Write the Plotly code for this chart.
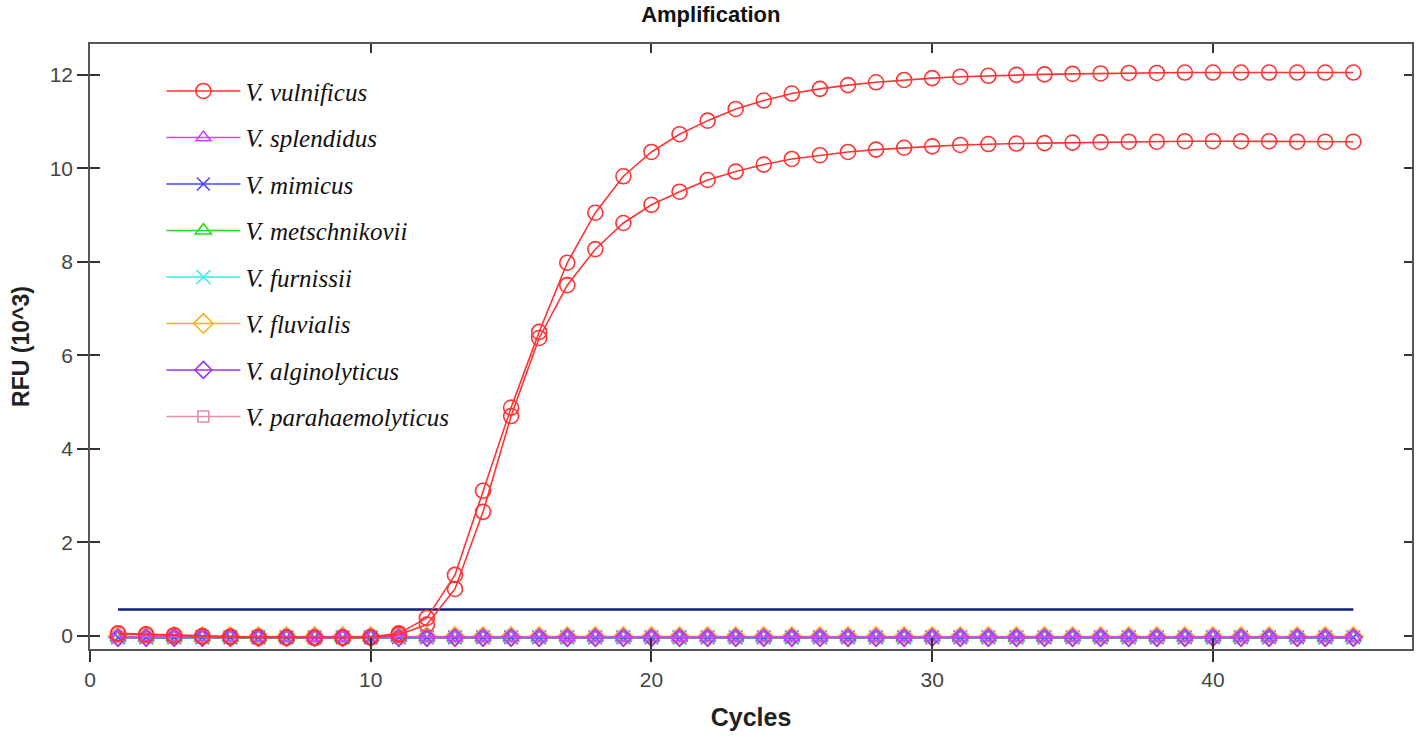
import plotly.graph_objects as go

cycles = list(range(1, 46))

# V. vulnificus, two replicates (RFU x10^3)
vulnificus_a = [0.05, 0.03, 0.01, -0.01, -0.02, -0.03, -0.04, -0.04, -0.04, -0.03,
                0.05, 0.38, 1.30, 3.10, 4.88, 6.50, 7.98, 9.05, 9.83, 10.35,
                10.73, 11.02, 11.27, 11.45, 11.60, 11.70, 11.78, 11.84, 11.89, 11.93,
                11.96, 11.98, 12.00, 12.01, 12.02, 12.03, 12.04, 12.04, 12.05, 12.05,
                12.05, 12.05, 12.05, 12.05, 12.05]
vulnificus_b = [0.04, 0.02, 0.00, -0.02, -0.03, -0.04, -0.04, -0.05, -0.04, -0.04,
                0.02, 0.24, 1.00, 2.65, 4.70, 6.37, 7.50, 8.27, 8.83, 9.22,
                9.50, 9.75, 9.93, 10.08, 10.20, 10.28, 10.35, 10.40, 10.44, 10.47,
                10.50, 10.52, 10.53, 10.54, 10.55, 10.56, 10.57, 10.57, 10.58, 10.58,
                10.58, 10.58, 10.57, 10.57, 10.57]

splendidus = [-0.03, -0.03, -0.03, -0.03, -0.03, -0.03, -0.03, -0.03, -0.03, -0.03,
              -0.03, -0.03, -0.03, -0.03, -0.03, -0.03, -0.03, -0.03, -0.03, -0.03,
              -0.03, -0.03, -0.03, -0.03, -0.03, -0.03, -0.03, -0.03, -0.03, -0.03,
              -0.03, -0.03, -0.03, -0.03, -0.03, -0.03, -0.03, -0.03, -0.03, -0.03,
              -0.03, -0.03, -0.03, -0.03, -0.03]
mimicus = [-0.04, -0.04, -0.04, -0.04, -0.04, -0.04, -0.04, -0.04, -0.04, -0.04,
           -0.04, -0.04, -0.04, -0.04, -0.04, -0.04, -0.04, -0.04, -0.04, -0.04,
           -0.04, -0.04, -0.04, -0.04, -0.04, -0.04, -0.04, -0.04, -0.04, -0.04,
           -0.04, -0.04, -0.04, -0.04, -0.04, -0.04, -0.04, -0.04, -0.04, -0.04,
           -0.04, -0.04, -0.04, -0.04, -0.04]
metschnikovii = [-0.05, -0.05, -0.05, -0.05, -0.05, -0.05, -0.05, -0.05, -0.05, -0.05,
                 -0.05, -0.05, -0.05, -0.05, -0.05, -0.05, -0.05, -0.05, -0.05, -0.05,
                 -0.05, -0.05, -0.05, -0.05, -0.05, -0.05, -0.05, -0.05, -0.05, -0.05,
                 -0.05, -0.05, -0.05, -0.05, -0.05, -0.05, -0.05, -0.05, -0.05, -0.05,
                 -0.05, -0.05, -0.05, -0.05, -0.05]
furnissii = [-0.03, -0.03, -0.03, -0.03, -0.03, -0.03, -0.03, -0.03, -0.03, -0.03,
             -0.03, -0.03, -0.03, -0.03, -0.03, -0.03, -0.03, -0.03, -0.03, -0.03,
             -0.03, -0.03, -0.03, -0.03, -0.03, -0.03, -0.03, -0.03, -0.03, -0.03,
             -0.03, -0.03, -0.03, -0.03, -0.03, -0.03, -0.03, -0.03, -0.03, -0.03,
             -0.03, -0.03, -0.03, -0.03, -0.03]
fluvialis = [-0.02, -0.02, -0.02, -0.02, -0.02, -0.02, -0.02, -0.02, -0.02, -0.02,
             -0.02, -0.02, -0.02, -0.02, -0.02, -0.02, -0.02, -0.02, -0.02, -0.02,
             -0.02, -0.02, -0.02, -0.02, -0.02, -0.02, -0.02, -0.02, -0.02, -0.02,
             -0.02, -0.02, -0.02, -0.02, -0.02, -0.02, -0.02, -0.02, -0.02, -0.02,
             -0.02, -0.02, -0.02, -0.02, -0.02]
alginolyticus = [-0.04, -0.04, -0.04, -0.04, -0.04, -0.04, -0.04, -0.04, -0.04, -0.04,
                 -0.04, -0.04, -0.04, -0.04, -0.04, -0.04, -0.04, -0.04, -0.04, -0.04,
                 -0.04, -0.04, -0.04, -0.04, -0.04, -0.04, -0.04, -0.04, -0.04, -0.04,
                 -0.04, -0.04, -0.04, -0.04, -0.04, -0.04, -0.04, -0.04, -0.04, -0.04,
                 -0.04, -0.04, -0.04, -0.04, -0.04]
parahaemolyticus = [-0.03, -0.03, -0.03, -0.03, -0.03, -0.03, -0.03, -0.03, -0.03, -0.03,
                    -0.03, -0.03, -0.03, -0.03, -0.03, -0.03, -0.03, -0.03, -0.03, -0.03,
                    -0.03, -0.03, -0.03, -0.03, -0.03, -0.03, -0.03, -0.03, -0.03, -0.03,
                    -0.03, -0.03, -0.03, -0.03, -0.03, -0.03, -0.03, -0.03, -0.03, -0.03,
                    -0.03, -0.03, -0.03, -0.03, -0.03]

threshold_x = [1, 45]
threshold_y = [0.56, 0.56]

x_ticks = [0, 10, 20, 30, 40]
y_ticks = [0, 2, 4, 6, 8, 10, 12]

series = [
    ("V. vulnificus", [vulnificus_a, vulnificus_b], "#FF3333", "circle-open", 15),
    ("V. splendidus", [splendidus], "#CC44FF", "triangle-up-open", 13),
    ("V. mimicus", [mimicus], "#4444FF", "x-thin-open", 13),
    ("V. metschnikovii", [metschnikovii], "#22DD22", "triangle-up-open", 14),
    ("V. furnissii", [furnissii], "#33EEE8", "x-thin-open", 14),
    ("V. fluvialis", [fluvialis], "#FFAA22", "diamond-open", 15),
    ("V. alginolyticus", [alginolyticus], "#9933FF", "diamond-open", 13),
    ("V. parahaemolyticus", [parahaemolyticus], "#E58FA8", "square-open", 11),
]

fig = go.Figure()

# threshold line
fig.add_trace(go.Scatter(x=threshold_x, y=threshold_y, mode="lines",
                         line=dict(color="#0A1F78", width=2.5),
                         showlegend=False, hoverinfo="skip"))

draw_order = [4, 3, 2, 5, 7, 6, 1, 0]
for idx in draw_order:
    name, arrays, color, symbol, size = series[idx]
    for k, arr in enumerate(arrays):
        fig.add_trace(go.Scatter(
            x=cycles, y=arr, mode="lines+markers",
            name=name, legendgroup=name, legendrank=idx + 1,
            showlegend=(k == 0),
            line=dict(color=color, width=1.6),
            marker=dict(symbol=symbol, size=size, color=color,
                        line=dict(color=color, width=1.6)),
        ))

axis_common = dict(showgrid=False, zeroline=False, showline=True, automargin=False,
                   linecolor="#555555", linewidth=1.5, tickcolor="#333333",
                   tickwidth=1.5)
overlay_common = dict(showticklabels=False, showgrid=False, zeroline=False,
                      showline=False, automargin=False,
                      tickcolor="#333333", tickwidth=1.5)

fig.update_layout(
    width=1416, height=738,
    margin=dict(l=90, r=4, t=44, b=89),
    paper_bgcolor="white", plot_bgcolor="white",
    title=dict(text="<b>Amplification</b>", x=0.502, xanchor="center", y=0.981,
               yanchor="middle", automargin=False,
               font=dict(family="Liberation Sans, Arial", size=22, color="#111111")),
    xaxis=dict(range=[0, 47.09], tickvals=x_ticks, ticks="outside", ticklen=11,
               mirror=True,
               tickfont=dict(family="Liberation Sans, Arial", size=21, color="#444444"),
               title=dict(text="<b>Cycles</b>", standoff=19,
                          font=dict(family="Liberation Sans, Arial", size=25, color="#222222")),
               **axis_common),
    yaxis=dict(range=[-0.285, 12.66], tickvals=y_ticks, ticks="outside", ticklen=11,
               mirror=True,
               tickfont=dict(family="Liberation Sans, Arial", size=21, color="#444444"),
               title=dict(text="<b>RFU (10^3)</b>", standoff=14,
                          font=dict(family="Liberation Sans, Arial", size=23, color="#222222")),
               **axis_common),
    xaxis2=dict(overlaying="x", matches="x", side="bottom", anchor="y",
                tickvals=x_ticks, ticks="inside", ticklen=11, **overlay_common),
    xaxis3=dict(overlaying="x", matches="x", side="top", anchor="y",
                tickvals=x_ticks, ticks="inside", ticklen=9, **overlay_common),
    yaxis2=dict(overlaying="y", matches="y", side="left", anchor="x",
                tickvals=y_ticks, ticks="inside", ticklen=10, **overlay_common),
    yaxis3=dict(overlaying="y", matches="y", side="right", anchor="x",
                tickvals=y_ticks, ticks="inside", ticklen=8, **overlay_common),
    legend=dict(x=0.054, y=0.960, xanchor="left", yanchor="top",
                bgcolor="rgba(0,0,0,0)", borderwidth=0,
                font=dict(family="Liberation Serif, Times New Roman", size=25,
                          color="#111111", style="italic"),
                itemwidth=74, tracegroupgap=11, itemsizing="trace",
                traceorder="grouped"),
)

fig.add_trace(go.Scatter(x=[None], y=[None], xaxis="x2", yaxis="y2",
                         showlegend=False, hoverinfo="skip"))
fig.add_trace(go.Scatter(x=[None], y=[None], xaxis="x3", yaxis="y3",
                         showlegend=False, hoverinfo="skip"))

fig.write_html("out.html", config={"displayModeBar": False},
               post_script="document.body.style.margin='0';document.body.style.padding='0';")
